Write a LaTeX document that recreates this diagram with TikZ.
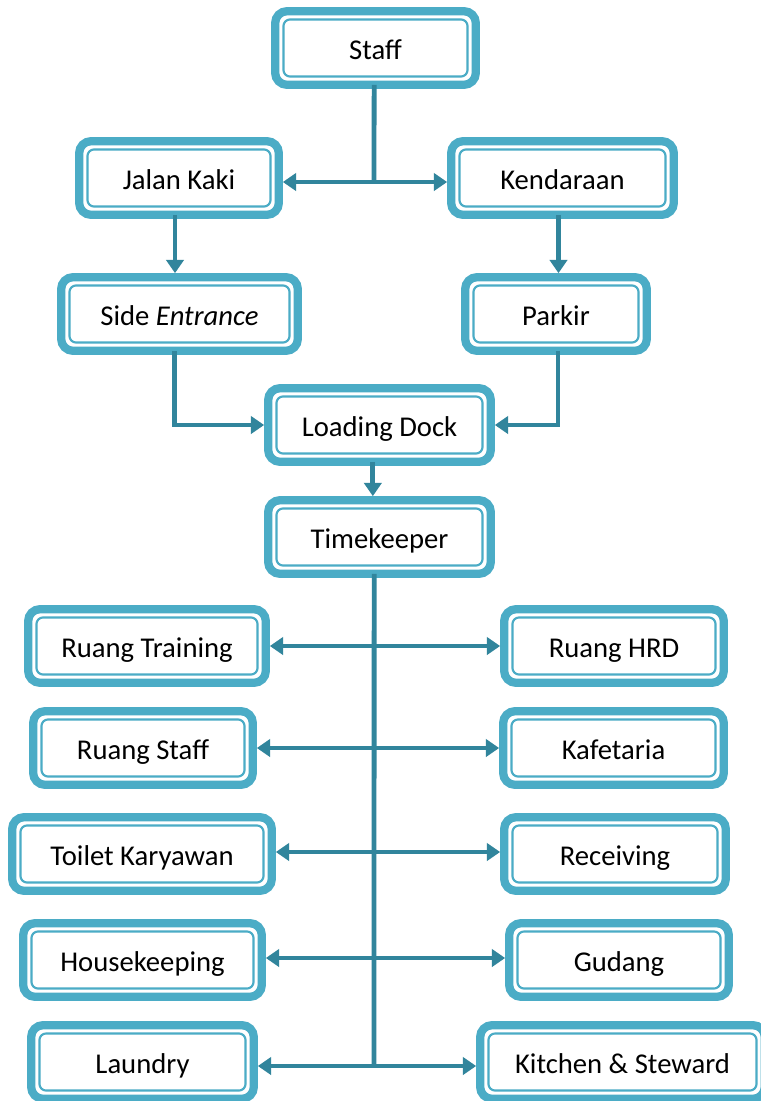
\documentclass[tikz,border=0pt]{standalone}
\usepackage{fontspec}
\setmainfont{Carlito}
\usetikzlibrary{arrows.meta,calc}
\definecolor{frame}{HTML}{4BACC6}
\definecolor{conn}{HTML}{31859C}
\tikzset{
  obox/.style={draw=frame, line width=6.2pt, rounded corners=9pt, fill=white, inner sep=0pt,
    outer sep=0pt, text height=17pt, text depth=0pt, font=\fontsize{21.5}{26}\selectfont},
  ibox/.style={draw=frame, line width=1.6pt, rounded corners=5pt},
  arr/.style={draw=conn, line width=3.6pt, -{Triangle[length=10pt,width=13pt]}, shorten >=3pt},
  plain/.style={draw=conn, line width=3.6pt}
}
\newcommand\bx[6]{%
  \node[obox, minimum width={0.75pt*(#4-8.3)}, minimum height={0.75pt*(#5-8.3)}] (#1) at (#2,#3) {#6};
  \draw[ibox] ([shift={(8.3,8.3)}]#1.north west) rectangle ([shift={(-8.3,-8.3)}]#1.south east);
}
\begin{document}
\begin{tikzpicture}[x=0.75pt,y=-0.75pt]
\useasboundingbox (0,0) rectangle (761,1101);
\fill[white] (0,0) rectangle (761,1101);
% boxes
\bx{st}{375.5}{48}{209}{82}{Staff}
\bx{jk}{179}{178}{208}{82}{Jalan Kaki}
\bx{kd}{562.5}{178}{231}{82}{Kendaraan}
\bx{se}{179.5}{314}{245}{82}{Side \textit{Entrance}}
\bx{pk}{556}{314}{190}{82}{Parkir}
\bx{ld}{379.5}{425}{231}{82}{Loading Dock}
\bx{tk}{379.5}{537}{231}{82}{Timekeeper}
\bx{rt}{147}{646}{246}{82}{Ruang Training}
\bx{hrd}{614}{646}{228}{82}{Ruang HRD}
\bx{rs}{143}{748}{228}{82}{Ruang Staff}
\bx{kf}{613.5}{748}{229}{82}{Kafetaria}
\bx{tl}{142}{854}{268}{82}{Toilet Karyawan}
\bx{rc}{615}{854}{230}{82}{Receiving}
\bx{hk}{142.5}{960}{247}{82}{Housekeeping}
\bx{gd}{619}{960}{228}{82}{Gudang}
\bx{la}{142.5}{1062}{231}{82}{Laundry}
\bx{ks}{622.5}{1062}{293}{82}{Kitchen \& Steward}
% connectors
\coordinate (s1) at (374,182);
\draw[plain] ([xshift=-1pt]st.south) -- (s1);
\draw[arr] (s1) -- (s1 -| jk.east);
\draw[arr] (s1) -- (s1 -| kd.west);
\draw[arr] ([xshift=-3pt]jk.south) -- ([xshift=-3pt]jk.south |- se.north);
\draw[arr] ([xshift=-3pt]kd.south) -- ([xshift=-3pt]kd.south |- pk.north);
\draw[arr] ([xshift=-3.5pt]se.south) |- (ld.west);
\draw[arr] ([xshift=1.5pt]pk.south) |- (ld.east);
\draw[arr] ([xshift=-5pt]ld.south) -- ([xshift=-5pt]ld.south |- tk.north);
\coordinate (t1) at (374,646);
\coordinate (t2) at (374,748);
\coordinate (t3) at (374,852);
\coordinate (t4) at (374,958);
\coordinate (t5) at (374,1066);
\draw[plain] ([xshift=-4pt]tk.south) -- (t5);
\foreach \c/\l/\r in {t1/rt/hrd,t2/rs/kf,t3/tl/rc,t4/hk/gd,t5/la/ks}{
  \draw[arr] (\c) -- (\c -| \l.east);
  \draw[arr] (\c) -- (\c -| \r.west);
}
\end{tikzpicture}
\end{document}
